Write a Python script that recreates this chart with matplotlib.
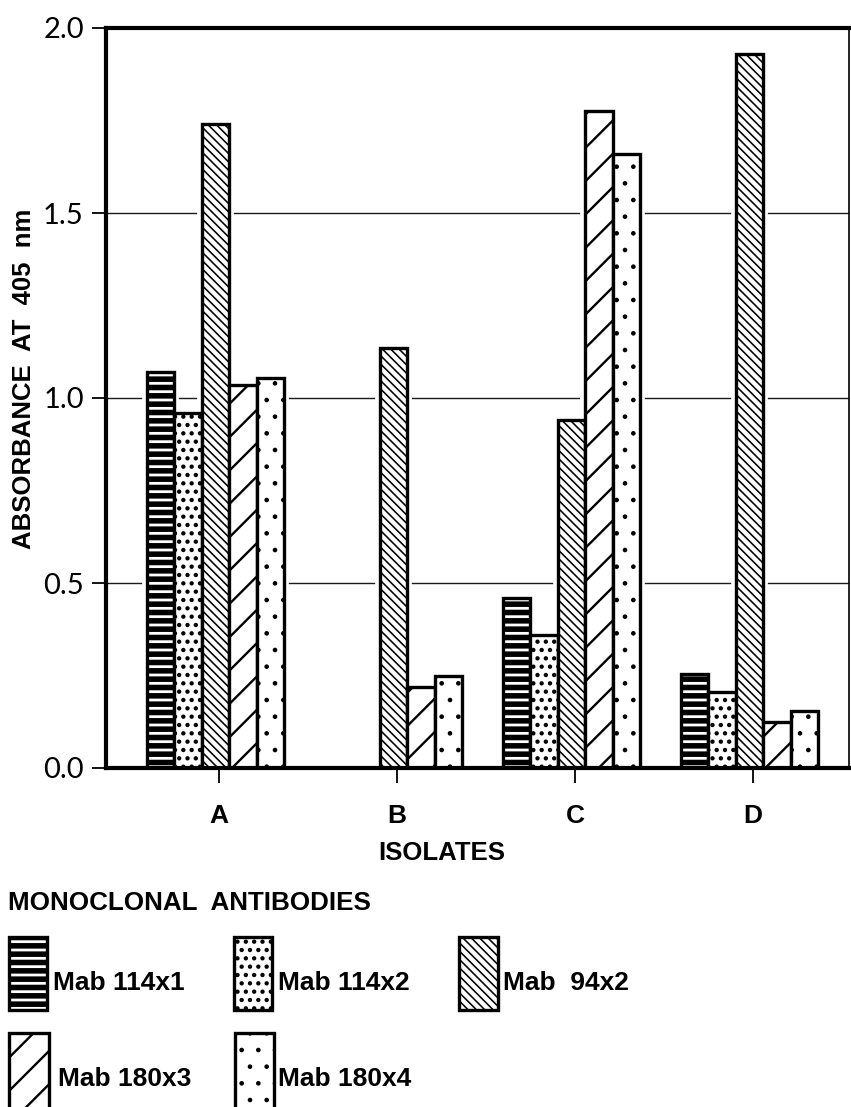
import numpy as np
import matplotlib
matplotlib.use('Agg')
import matplotlib.pyplot as plt
from matplotlib.patches import Rectangle

# absorbance values (nan = no bar)
isolates = ['A', 'B', 'C', 'D']
mab_names = ['Mab 114x1', 'Mab 114x2', 'Mab  94x2', 'Mab 180x3', 'Mab 180x4']
mab_114x1 = [1.07, np.nan, 0.46, 0.255]
mab_114x2 = [0.96, np.nan, 0.36, 0.205]
mab_94x2 = [1.74, 1.135, 0.94, 1.93]
mab_180x3 = [1.035, 0.22, 1.775, 0.125]
mab_180x4 = [1.055, 0.25, 1.66, 0.155]
y_ticks = [0.0, 0.5, 1.0, 1.5, 2.0]
y_ticklabels = ['0.0', '0.5', '1.0', '1.5', '2.0']

series = [mab_114x1, mab_114x2, mab_94x2, mab_180x3, mab_180x4]
hatches = ['--', '..', '\\\\\\\\', '/', '.']
hatch_lws = [4.0, 1.9, 1.15, 1.7, 0.9]

W, H = 851, 1107
bold = 'Liberation Sans'
light = ['Lato', 'DejaVu Sans']


def fx(px):
    return px / W


def fy(py):
    return 1 - py / H


def hatched(artist, hlw):
    if hasattr(artist, 'set_hatch_linewidth'):
        artist.set_hatch_linewidth(hlw)


fig = plt.figure(figsize=(W / 100, H / 100), dpi=100)
ax = fig.add_axes([fx(106), fy(768), fx(849) - fx(106), fy(28) - fy(768)])

x = np.arange(len(isolates))
width = 0.154
shift = -0.02

for i, vals in enumerate(series):
    pos = x + (i - 2) * width + shift
    # white halo so the grid stops short of the bars
    ax.bar(pos, vals, width, color='white', edgecolor='white', linewidth=7, zorder=2)
    with plt.rc_context({'hatch.linewidth': hatch_lws[i]}):
        bars = ax.bar(pos, vals, width, color='white', edgecolor='black',
                      linewidth=2.4, hatch=hatches[i], zorder=3)
    for b in bars:
        hatched(b, hatch_lws[i])

ax.set_xlim(-0.635, 3.539)
ax.set_ylim(0, 2)
ax.set_yticks(y_ticks)
ax.set_yticklabels(y_ticklabels, family=light, fontsize=21)
ax.set_xticks(x)
ax.set_xticklabels(isolates, family=bold, fontweight='bold', fontsize=19)
ax.tick_params(axis='y', length=10, width=1.3, pad=6, color='black')
ax.tick_params(axis='x', length=11, width=1.3, pad=15, color='black')

ax.set_axisbelow(True)
ax.yaxis.grid(True, color='#1a1a1a', linewidth=1.0)
ax.xaxis.grid(False)
for name, lw in [('left', 3.0), ('bottom', 3.0), ('top', 3.0), ('right', 1.2)]:
    ax.spines[name].set_linewidth(lw)
    ax.spines[name].set_zorder(5)

ax.set_ylabel('ABSORBANCE  AT  405  nm', family=bold, fontweight='bold', fontsize=18.5)
ax.yaxis.set_label_coords((24 - 106) / 743, (768 - 379) / 740)
ax.yaxis.label.set_va('center')
ax.set_xlabel('ISOLATES', family=bold, fontweight='bold', fontsize=18.5)
ax.xaxis.set_label_coords((442 - 106) / 743, (768 - 853) / 740)
ax.xaxis.label.set_va('center')

# legend drawn by hand below the axes
fig.text(fx(8), fy(903), 'MONOCLONAL  ANTIBODIES', family=bold, fontweight='bold',
         fontsize=18.7, ha='left', va='center')

leg_boxes = [(9, 937, 38, 73), (234, 937, 38, 73), (459, 937, 39, 73),
             (9, 1033, 40, 80), (235, 1033, 39, 80)]
leg_text = [(53, 983), (278, 983), (503, 983), (58, 1079), (278, 1079)]
for i, name in enumerate(mab_names):
    bx, by, bw, bh = leg_boxes[i]
    with plt.rc_context({'hatch.linewidth': hatch_lws[i]}):
        r = Rectangle((fx(bx), fy(by + bh)), bw / W, bh / H, transform=fig.transFigure,
                      facecolor='white', edgecolor='black', linewidth=2.4, hatch=hatches[i])
    hatched(r, hatch_lws[i])
    fig.add_artist(r)
    tx, ty = leg_text[i]
    fig.text(fx(tx), fy(ty), name, family=bold, fontweight='bold', fontsize=19,
             ha='left', va='center')

fig.savefig('out.png', dpi=100)
